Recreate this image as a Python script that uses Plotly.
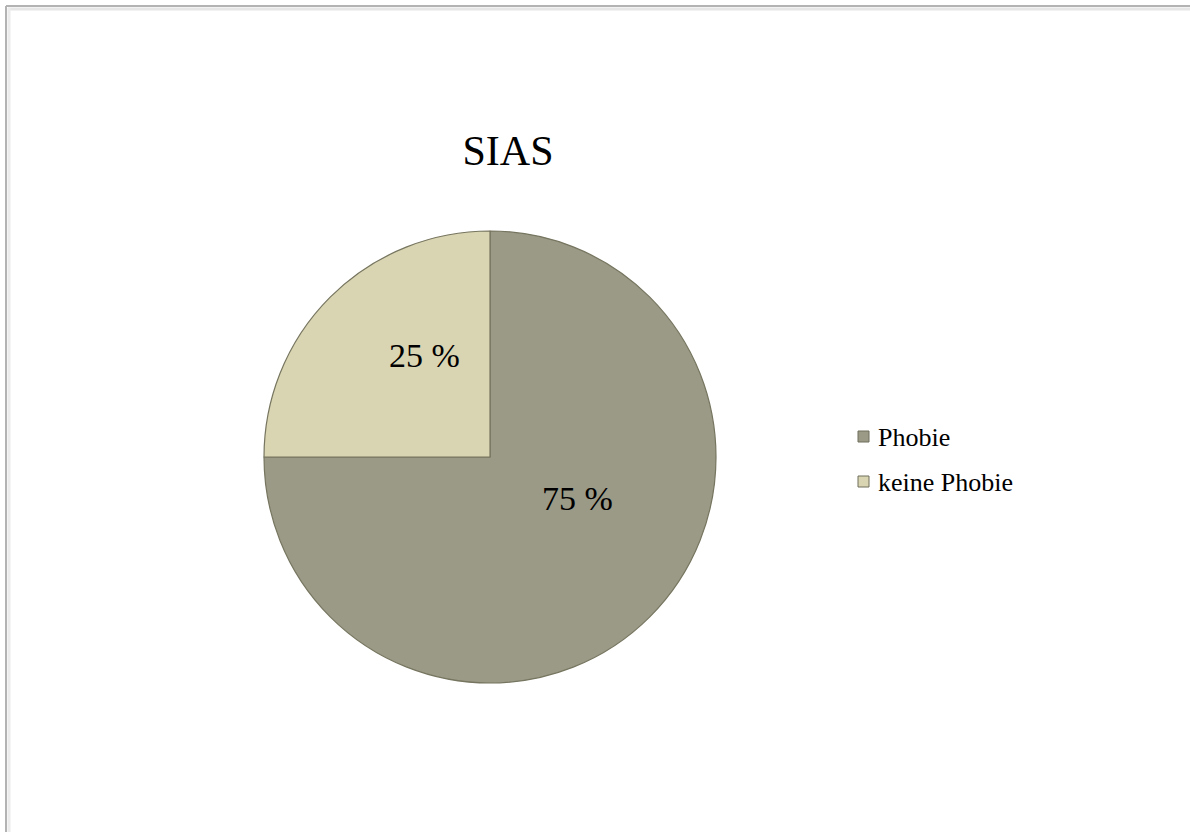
import plotly.graph_objects as go

# SIAS screening result shares
categories = ["Phobie", "keine Phobie"]
shares = [75, 25]
slice_colors = ["#9b9a87", "#d9d4b1"]

labels_text = [f"{v} %" for v in shares]

W, H = 1190, 832
serif = "Liberation Serif, Times New Roman, serif"

CX, CY, R = 490, 457, 226  # pie centre and radius in pixels

fig = go.Figure(
    go.Pie(
        labels=categories,
        values=shares,
        textinfo="none",
        sort=False,
        direction="clockwise",
        rotation=0,
        marker=dict(colors=slice_colors, line=dict(color="#76755f", width=1.2)),
        domain=dict(x=[(CX - R) / W, (CX + R) / W], y=[(H - CY - R) / H, (H - CY + R) / H]),
        hoverinfo="label+percent",
        showlegend=False,
    )
)

# Percent labels inside the slices
label_pos = [(577, 498), (424, 355)]
annotations = [
    dict(text=t, x=px / W, y=1 - py / H, xref="paper", yref="paper",
         xanchor="center", yanchor="middle", showarrow=False,
         font=dict(family=serif, size=34, color="#000000"))
    for t, (px, py) in zip(labels_text, label_pos)
]

# Legend: small swatch followed by the category name
legend_rows = [437, 482]
shapes = []
for name, col, py in zip(categories, slice_colors, legend_rows):
    shapes.append(dict(type="rect", xref="paper", yref="paper",
                       x0=858 / W, x1=869 / W, y0=1 - (py + 5) / H, y1=1 - (py - 6) / H,
                       fillcolor=col, line=dict(color="#6f6e5c", width=1)))
    annotations.append(dict(text=name, x=876 / W, y=1 - py / H, xref="paper", yref="paper",
                            xanchor="left", yanchor="middle", showarrow=False,
                            font=dict(family=serif, size=26, color="#000000")))

# Page frame along the top and left edges
frame = "#b3b3b3"
shapes += [
    dict(type="line", xref="paper", yref="paper", x0=6 / W, x1=1, y0=1 - 6 / H, y1=1 - 6 / H,
         line=dict(color=frame, width=2)),
    dict(type="line", xref="paper", yref="paper", x0=6 / W, x1=6 / W, y0=0, y1=1 - 6 / H,
         line=dict(color=frame, width=2)),
    dict(type="line", xref="paper", yref="paper", x0=8 / W, x1=1, y0=1 - 9 / H, y1=1 - 9 / H,
         line=dict(color="#e6e6e6", width=3)),
    dict(type="line", xref="paper", yref="paper", x0=9 / W, x1=9 / W, y0=0, y1=1 - 8 / H,
         line=dict(color="#ececec", width=3)),
]

fig.update_layout(
    width=W,
    height=H,
    margin=dict(l=0, r=0, t=0, b=0),
    paper_bgcolor="#ffffff",
    plot_bgcolor="#ffffff",
    shapes=shapes,
    annotations=annotations,
    title=dict(
        text="SIAS",
        x=508 / W,
        xanchor="center",
        y=1 - 150 / H,
        yanchor="middle",
        font=dict(family=serif, size=42, color="#000000"),
    ),
    showlegend=False,
)

fig.write_html("out.html")
